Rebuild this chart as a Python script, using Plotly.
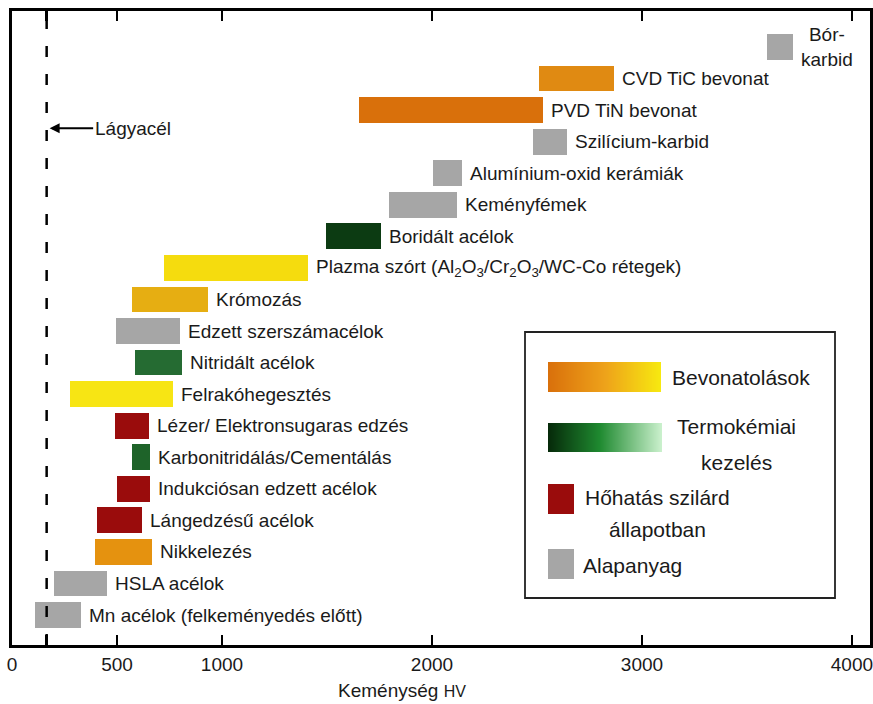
import plotly.graph_objects as go

# ---------------- data ----------------
materials = [
    "Bór-<br>karbid",
    "CVD TiC bevonat",
    "PVD TiN bevonat",
    "Szilícium-karbid",
    "Alumínium-oxid kerámiák",
    "Keményfémek",
    "Boridált acélok",
    "Plazma szórt (Al<sub>2</sub>O<sub>3</sub>/Cr<sub>2</sub>O<sub>3</sub>/WC-Co rétegek)",
    "Krómozás",
    "Edzett szerszámacélok",
    "Nitridált acélok",
    "Felrakóhegesztés",
    "Lézer/ Elektronsugaras edzés",
    "Karbonitridálás/Cementálás",
    "Indukciósan edzett acélok",
    "Lángedzésű acélok",
    "Nikkelezés",
    "HSLA acélok",
    "Mn acélok (felkeményedés előtt)",
]
hv_min = [3594, 2511, 1652, 2482, 2005, 1795, 1494, 726, 573, 496, 587, 277, 492, 573, 501, 406, 396, 200, 110]
hv_max = [3718, 2869, 2530, 2644, 2143, 2119, 1757, 1408, 931, 802, 811, 768, 654, 659, 659, 621, 668, 453, 329]
bar_colors = [
    "#a6a6a6", "#e08a12", "#d9700b", "#a6a6a6", "#a6a6a6", "#a6a6a6",
    "#0c3b12", "#f5dc0e", "#e6ae12", "#a6a6a6", "#256b32", "#f7e514",
    "#9a0c0c", "#1e6329", "#9a0c0c", "#9a0c0c", "#e5920f", "#a6a6a6", "#a6a6a6",
]
lagyacel_hv = 165
tick_vals = [0, lagyacel_hv, 500, 1000, 2000, 3000, 4000]
tick_text = ["0", "", "500", "1000", "2000", "3000", "4000"]

FONT = "Liberation Sans, Arial, sans-serif"
TXT = "#1a1a1a"

rows = list(range(len(materials)))
widths = [b - a for a, b in zip(hv_min, hv_max)]

fig = go.Figure()
fig.add_trace(go.Bar(
    y=rows, x=widths, base=hv_min, orientation="h",
    marker=dict(color=bar_colors, line=dict(width=0)),
    width=0.82, hoverinfo="skip", showlegend=False,
))

annotations = []
for r, name, end in zip(rows, materials, hv_max):
    annotations.append(dict(
        x=end, y=r, xref="x", yref="y", text=name, showarrow=False,
        xanchor="left", yanchor="middle", xshift=6, align="center",
        font=dict(family=FONT, size=19, color=TXT),
    ))

# Lágyacél arrow
annotations.append(dict(
    x=lagyacel_hv, y=0.815, xref="x", yref="paper", text="Lágyacél",
    showarrow=True, arrowhead=2, arrowsize=1, arrowwidth=2, arrowcolor="black",
    ax=86, ay=0, standoff=3,
    font=dict(family=FONT, size=19, color=TXT),
))

# x-axis title
annotations.append(dict(
    x=0.4545, y=-0.0715, xref="paper", yref="paper",
    text="Keménység <span style='font-size:16px'>HV</span>", showarrow=False,
    xanchor="center", yanchor="middle",
    font=dict(family=FONT, size=19, color=TXT),
))

# legend texts (positions relative to the plot area)
def px2x(px):
    return (px - 12) / 858.0

def px2y(py):
    return (645 - py) / 634.0

legend_font = dict(family=FONT, size=21, color=TXT)
annotations += [
    dict(x=px2x(670), y=px2y(377), xref="paper", yref="paper", text="Bevonatolások",
         showarrow=False, xanchor="left", yanchor="middle", font=legend_font),
    dict(x=px2x(736), y=px2y(427), xref="paper", yref="paper", text="Termokémiai",
         showarrow=False, xanchor="center", yanchor="middle", font=legend_font),
    dict(x=px2x(736), y=px2y(462), xref="paper", yref="paper", text="kezelés",
         showarrow=False, xanchor="center", yanchor="middle", font=legend_font),
    dict(x=px2x(657), y=px2y(497), xref="paper", yref="paper", text="Hőhatás szilárd",
         showarrow=False, xanchor="center", yanchor="middle", font=legend_font),
    dict(x=px2x(657), y=px2y(529), xref="paper", yref="paper", text="állapotban",
         showarrow=False, xanchor="center", yanchor="middle", font=legend_font),
    dict(x=px2x(581), y=px2y(565), xref="paper", yref="paper", text="Alapanyag",
         showarrow=False, xanchor="left", yanchor="middle", font=legend_font),
]

shapes = [
    # Lágyacél dashed line
    dict(type="line", xref="x", yref="paper", x0=lagyacel_hv, x1=lagyacel_hv, y0=0, y1=1,
         line=dict(color="black", width=2.5, dash="11px,17px")),
    # legend box
    dict(type="rect", xref="paper", yref="paper", x0=px2x(525), x1=px2x(835),
         y0=px2y(598), y1=px2y(332), line=dict(color="#222222", width=1.8),
         fillcolor="white", layer="below"),
    dict(type="rect", xref="paper", yref="paper", x0=px2x(548), x1=px2x(574),
         y0=px2y(514), y1=px2y(484), line=dict(width=0), fillcolor="#9a0c0c"),
    dict(type="rect", xref="paper", yref="paper", x0=px2x(548), x1=px2x(574),
         y0=px2y(579), y1=px2y(549), line=dict(width=0), fillcolor="#a6a6a6"),
]

# gradient swatches as heatmaps on overlay axes
grad_orange = [[0, "#d9700b"], [0.5, "#eea21a"], [1, "#f7ea10"]]
grad_green = [[0, "#062a0a"], [0.45, "#1f8a30"], [1, "#cdf2cf"]]
fig.add_trace(go.Heatmap(z=[[0, 1], [0, 1]], x=[0, 1], y=[0, 1], colorscale=grad_orange,
                         zsmooth="best", showscale=False, hoverinfo="skip",
                         xaxis="x2", yaxis="y2"))
fig.add_trace(go.Heatmap(z=[[0, 1], [0, 1]], x=[0, 1], y=[0, 1], colorscale=grad_green,
                         zsmooth="best", showscale=False, hoverinfo="skip",
                         xaxis="x3", yaxis="y3"))

hidden = dict(visible=False, range=[0, 1], fixedrange=True, showgrid=False, zeroline=False)

fig.update_layout(
    width=873, height=704,
    margin=dict(l=12, r=3, t=11, b=59),
    paper_bgcolor="white", plot_bgcolor="white",
    font=dict(family=FONT, size=19, color=TXT),
    showlegend=False,
    bargap=0,
    xaxis=dict(
        range=[0, 4086], tickmode="array", tickvals=tick_vals, ticktext=tick_text,
        ticks="inside", ticklen=10, tickwidth=2.5, tickcolor="black",
        showline=True, linecolor="black", linewidth=2.8, mirror="ticks",
        showgrid=False, zeroline=False, automargin=False,
        ticklabeloverflow="allow",
        tickfont=dict(family=FONT, size=19, color=TXT),
    ),
    yaxis=dict(
        range=[18.95, -1.14], showticklabels=False, ticks="",
        showline=True, linecolor="black", linewidth=2.8, mirror=True,
        showgrid=False, zeroline=False, automargin=False,
    ),
    xaxis2=dict(hidden, domain=[px2x(548), px2x(661)], anchor="y2"),
    yaxis2=dict(hidden, domain=[px2y(392), px2y(362)], anchor="x2"),
    xaxis3=dict(hidden, domain=[px2x(548), px2x(662)], anchor="y3"),
    yaxis3=dict(hidden, domain=[px2y(452), px2y(423)], anchor="x3"),
    shapes=shapes,
    annotations=annotations,
)

# remove the default 8px page margin so the 873x704 figure fills the window exactly
fig.write_html(
    "out.html",
    config={"displayModeBar": False, "staticPlot": True},
    post_script="document.body.style.margin='0px';",
)
